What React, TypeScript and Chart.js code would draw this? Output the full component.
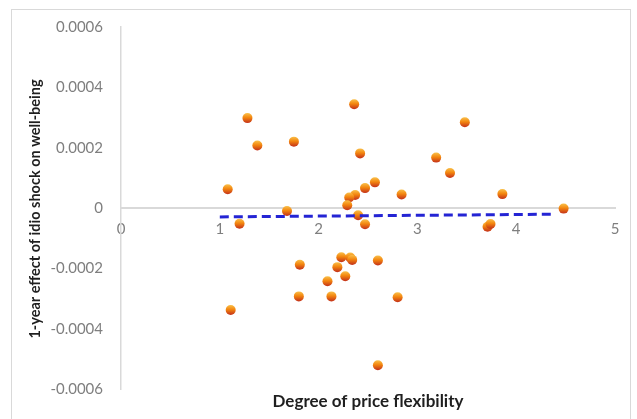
import { useEffect, useRef } from 'react';
import { Chart, registerables } from 'chart.js';

Chart.register(...registerables);

// Degree of price flexibility per observation
const flexibility = [
  1.08, 1.28, 1.38, 1.75, 1.68, 1.2, 1.11, 1.81, 1.8,
  2.36, 2.42, 3.48, 3.19, 3.33, 2.57, 2.47, 2.37, 2.31,
  2.84, 3.86, 2.29, 4.48, 2.4, 2.47, 3.71, 3.74, 2.23,
  2.32, 2.34, 2.6, 2.19, 2.27, 2.09, 2.13, 2.8, 2.6,
];

// 1-year effect of the idiosyncratic shock on well-being
const effect = [
  0.000062, 0.000298, 0.000207, 0.00022, -0.00001, -0.000052, -0.000338, -0.000188, -0.000293,
  0.000344, 0.000181, 0.000284, 0.000167, 0.000116, 0.000085, 0.000066, 0.000043, 0.000035,
  0.000045, 0.000046, 0.000009, -0.000002, -0.000024, -0.000054, -0.000062, -0.000053, -0.000163,
  -0.000164, -0.000172, -0.000174, -0.000196, -0.000226, -0.000243, -0.000293, -0.000296, -0.000521,
];

// Linear trend line end points
const trendX = [1.0, 4.35];
const trendY = [-0.0000295, -0.0000207];

const xTitle = 'Degree of price flexibility';
const yTitle = '1-year effect of idio shock on well-being';

const FONT = 'Lato, "Open Sans", sans-serif';

export default function App() {
  const canvasRef = useRef<HTMLCanvasElement | null>(null);

  useEffect(() => {
    document.body.style.margin = '0';
    const canvas = canvasRef.current;
    if (!canvas) return;

    // white background, outer frame and the two axis titles
    const frame = {
      id: 'frame',
      beforeDraw(chart: any) {
        const { ctx } = chart;
        ctx.save();
        ctx.fillStyle = '#ffffff';
        ctx.fillRect(0, 0, chart.width, chart.height);
        ctx.strokeStyle = '#d9d9d9';
        ctx.lineWidth = 1;
        ctx.strokeRect(11.5, 9.5, 619, 415);
        ctx.restore();
      },
      afterDraw(chart: any) {
        const { ctx, chartArea } = chart;
        ctx.save();
        ctx.fillStyle = '#1f1f1f';
        ctx.textAlign = 'center';
        ctx.textBaseline = 'middle';
        ctx.font = `bold 17px ${FONT}`;
        ctx.fillText(xTitle, (chartArea.left + chartArea.right) / 2, chartArea.bottom + 13);
        ctx.translate(35, (chartArea.top + chartArea.bottom) / 2 + 1);
        ctx.rotate(-Math.PI / 2);
        ctx.font = `bold 14.5px ${FONT}`;
        ctx.fillText(yTitle, 0, 0);
        ctx.restore();
      },
    };

    const ballColor = (context: any) => {
      const chart = context.chart;
      const raw = context.raw;
      if (!raw || !chart.scales || !chart.scales.y) return '#f07a10';
      const py = chart.scales.y.getPixelForValue(raw.y);
      if (!isFinite(py)) return '#f07a10';
      const g = chart.ctx.createLinearGradient(0, py - 5, 0, py + 5);
      g.addColorStop(0, '#f9c04a');
      g.addColorStop(0.45, '#f3860f');
      g.addColorStop(1, '#c3301a');
      return g;
    };

    const chart = new Chart(canvas, {
      type: 'scatter',
      data: {
        datasets: [
          {
            label: 'trend',
            type: 'line',
            data: trendX.map((x, i) => ({ x, y: trendY[i] })),
            borderColor: '#2424d4',
            borderWidth: 3,
            borderDash: [9, 5],
            pointRadius: 0,
            fill: false,
            order: 0,
          },
          {
            label: 'effect',
            data: flexibility.map((x, i) => ({ x, y: effect[i] })),
            backgroundColor: ballColor,
            borderWidth: 0,
            pointRadius: 5,
            order: 1,
          },
        ],
      },
      plugins: [frame],
      options: {
        animation: false,
        responsive: false,
        layout: { padding: { left: 11, top: 23, right: 22, bottom: 30 } },
        plugins: {
          legend: { display: false },
          tooltip: { enabled: false },
        },
        scales: {
          x: {
            type: 'linear',
            position: { y: 0 },
            min: 0,
            max: 5,
            ticks: {
              stepSize: 1,
              padding: 12,
              color: '#7f7f7f',
              font: { family: FONT, size: 15 },
            },
            grid: { display: false, drawTicks: false },
            border: { display: true, color: '#d9d9d9', width: 2 },
          },
          y: {
            type: 'linear',
            position: 'left',
            min: -0.0006,
            max: 0.0006,
            afterFit(scale: any) {
              scale.width = 110;
            },
            ticks: {
              stepSize: 0.0002,
              padding: 18,
              color: '#7f7f7f',
              font: { family: FONT, size: 15 },
              callback: (v: any) => (Math.abs(v) < 1e-12 ? '0' : Number(v).toFixed(4)),
            },
            grid: { display: false, drawTicks: false },
            border: { display: true, color: '#d9d9d9', width: 1.5 },
          },
        },
      },
    });

    return () => chart.destroy();
  }, []);

  return <canvas ref={canvasRef} width={637} height={419} style={{ display: 'block' }} />;
}
